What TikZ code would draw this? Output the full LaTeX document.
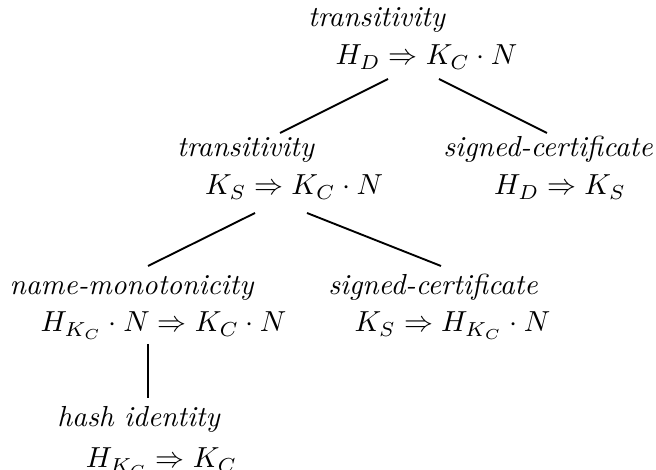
\documentclass[tikz,border=0pt]{standalone}
\usepackage{amsmath}

\begin{document}
\begin{tikzpicture}[x=0.345pt,y=-0.345pt,
   rule/.style={anchor=base,inner sep=0pt,font=\itshape},
   judg/.style={anchor=base,inner sep=0pt},
   line width=0.65pt]
   \useasboundingbox (0,0) rectangle (656,470);
   % rule names and judgements
   \node[rule] (l1) at (376.5,27) {transitivity};
   \node[judg] (j1) at (426.5,65) {$H_D \Rightarrow K_C \cdot N$};
   \node[rule] (l2) at (245.5,157) {transitivity};
   \node[judg] (j2) at (294,195) {$K_S \Rightarrow K_C \cdot N$};
   \node[rule] (l3) at (548,157) {signed-certificate};
   \node[judg] (j3) at (560,195) {$H_D \Rightarrow K_S$};
   \node[rule] (l4) at (131.5,295) {name-monotonicity};
   \node[judg] (j4) at (163.5,332) {$H_{K_C} \cdot N \Rightarrow K_C \cdot N$};
   \node[rule] (l5) at (433,295) {signed-certificate};
   \node[judg] (j5) at (452.5,332) {$K_S \Rightarrow H_{K_C} \cdot N$};
   \node[rule] (l6) at (138.5,427) {hash identity};
   \node[judg] (j6) at (161.5,468) {$H_{K_C} \Rightarrow K_C$};
   % edge ends
   \coordinate (j1-l) at (388,79);
   \coordinate (j1-r) at (439,79);
   \coordinate (l2-t) at (280,133);
   \coordinate (l3-t) at (547,133);
   \coordinate (j2-l) at (255,213);
   \coordinate (j2-r) at (307,213);
   \coordinate (l4-t) at (148,266);
   \coordinate (l5-t) at (441,266);
   \coordinate (j4-b) at (148,344);
   \coordinate (l6-t) at (148,398);
   \draw (j1-l) -- (l2-t);
   \draw (j1-r) -- (l3-t);
   \draw (j2-l) -- (l4-t);
   \draw (j2-r) -- (l5-t);
   \draw (j4-b) -- (l6-t);
\end{tikzpicture}
\end{document}
